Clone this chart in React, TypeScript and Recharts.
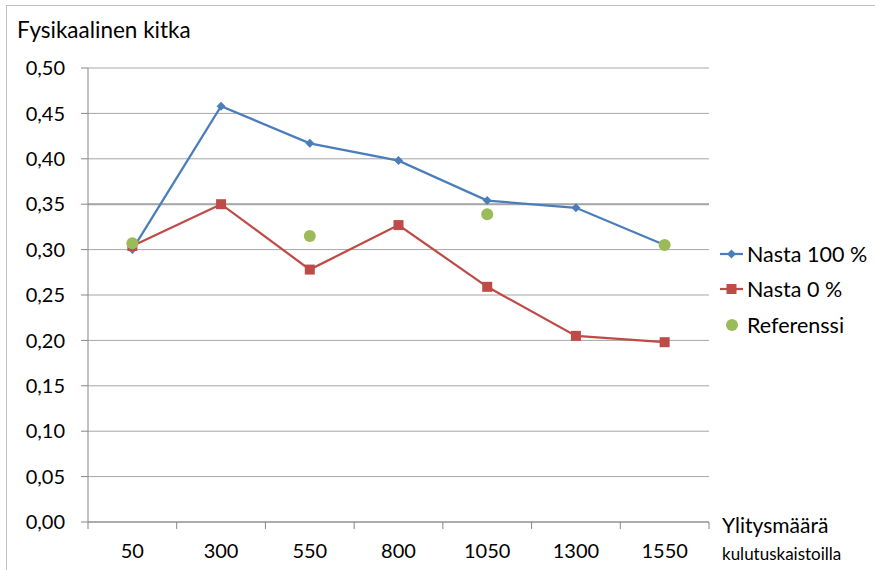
import React from 'react'
import {
  CartesianGrid,
  ComposedChart,
  Line,
  ReferenceLine,
  XAxis,
  YAxis,
} from 'recharts'

const categories = ['50', '300', '550', '800', '1050', '1300', '1550']
const nasta100 = [0.3, 0.458, 0.417, 0.398, 0.354, 0.346, 0.305]
const nasta0 = [0.304, 0.35, 0.278, 0.327, 0.259, 0.205, 0.198]
const referenssi = [0.307, null, 0.315, null, 0.339, null, 0.305]
const yTicks = [0, 0.05, 0.1, 0.15, 0.2, 0.25, 0.3, 0.35, 0.4, 0.45, 0.5]

const data = categories.map((c, i) => ({
  cat: c,
  n100: nasta100[i],
  n0: nasta0[i],
  ref: referenssi[i],
}))

const WIDTH = 875
const HEIGHT = 570
const MARGIN = { top: 68, right: 166, bottom: 18, left: 0 }
const Y_AXIS_W = 88
const BAND = (WIDTH - MARGIN.right - Y_AXIS_W) / categories.length

const FONT = 'Lato, "Open Sans", sans-serif'
const BLUE = '#4a7ebb'
const RED = '#be4b48'
const GREEN = '#9bbb59'
const GRID = '#a6a6a6'
const AXIS = '#868686'

const Diamond = ({ cx, cy }: any) =>
  cx == null || cy == null ? null : (
    <polygon
      points={`${cx},${cy - 4.5} ${cx + 4.5},${cy} ${cx},${cy + 4.5} ${cx - 4.5},${cy}`}
      fill={BLUE}
    />
  )

const Square = ({ cx, cy }: any) =>
  cx == null || cy == null ? null : (
    <rect x={cx - 5} y={cy - 5} width={10} height={10} fill={RED} />
  )

const Circle = ({ cx, cy }: any) =>
  cx == null || cy == null ? null : <circle cx={cx} cy={cy} r={6} fill={GREEN} />

function XTick({ x, y, payload, index }: any) {
  const half = BAND / 2
  return (
    <g>
      <line x1={x - half} x2={x - half} y1={y} y2={y + 7} stroke={AXIS} />
      {index === categories.length - 1 && (
        <line x1={x + half} x2={x + half} y1={y} y2={y + 7} stroke={AXIS} />
      )}
      <text x={x} y={y + 36} textAnchor="middle" fill="#000" fontSize={20} fontFamily={FONT}>
        {payload.value}
      </text>
    </g>
  )
}

function AxisTitle({ viewBox }: any) {
  const x = viewBox.x + viewBox.width + 13
  return (
    <g fontFamily={FONT} fill="#000">
      <text x={x} y={533} fontSize={21}>Ylitysmäärä</text>
      <text x={x} y={560} fontSize={17}>kulutuskaistoilla</text>
    </g>
  )
}

// legend entries, in the reference's order
const legendItems = [
  { name: 'Nasta 100 %', color: BLUE, kind: 'diamond' },
  { name: 'Nasta 0 %', color: RED, kind: 'square' },
  { name: 'Referenssi', color: GREEN, kind: 'circle' },
]

function LegendIcon({ kind, color }: { kind: string; color: string }) {
  return (
    <svg width={27} height={16}>
      {kind !== 'circle' && (
        <line x1={0} x2={23} y1={8} y2={8} stroke={color} strokeWidth={2.25} />
      )}
      {kind === 'diamond' && <polygon points="11.5,3.5 16,8 11.5,12.5 7,8" fill={color} />}
      {kind === 'square' && <rect x={6.5} y={3} width={10} height={10} fill={color} />}
      {kind === 'circle' && <circle cx={12} cy={8} r={6} fill={color} />}
    </svg>
  )
}

export default function App() {
  return (
    <div
      style={{
        position: 'absolute',
        left: 0,
        top: 0,
        width: WIDTH,
        height: HEIGHT,
        background: '#fff',
        overflow: 'hidden',
      }}
    >
      <div
        style={{
          position: 'absolute',
          left: 6,
          top: 5,
          width: WIDTH,
          height: HEIGHT,
          borderLeft: '1px solid #bfbfbf',
          borderTop: '1px solid #bfbfbf',
        }}
      />
      <div
        style={{
          position: 'absolute',
          left: 17,
          top: 16,
          fontFamily: FONT,
          fontSize: 22.5,
          color: '#000',
        }}
      >
        Fysikaalinen kitka
      </div>
      <div
        style={{
          position: 'absolute',
          left: 720,
          top: 236,
          fontFamily: FONT,
          fontSize: 21.5,
          color: '#000',
        }}
      >
        {legendItems.map((it) => (
          <div key={it.name} style={{ display: 'flex', alignItems: 'center', height: 35.5 }}>
            <LegendIcon kind={it.kind} color={it.color} />
            <span>{it.name}</span>
          </div>
        ))}
      </div>
      <ComposedChart width={WIDTH} height={HEIGHT} data={data} margin={MARGIN}>
        <CartesianGrid horizontal vertical={false} stroke={GRID} strokeWidth={1} />
        <ReferenceLine y={0.35} stroke={GRID} strokeWidth={2} />
        <XAxis
          dataKey="cat"
          scale="band"
          height={30}
          axisLine={{ stroke: AXIS }}
          tickLine={false}
          tickSize={0}
          tickMargin={0}
          tick={<XTick />}
          interval={0}
          label={<AxisTitle />}
        />
        <YAxis
          width={Y_AXIS_W}
          domain={[0, 0.5]}
          ticks={yTicks}
          interval={0}
          tickFormatter={(v: number) => v.toFixed(2).replace('.', ',')}
          axisLine={{ stroke: AXIS }}
          tickLine={{ stroke: AXIS }}
          tickSize={7}
          tickMargin={16}
          tick={{ fill: '#000', fontSize: 20, fontFamily: FONT }}
        />
        <Line
          dataKey="n100"
          name="Nasta 100 %"
          stroke={BLUE}
          strokeWidth={2.25}
          dot={<Diamond />}
          activeDot={false}
          isAnimationActive={false}
        />
        <Line
          dataKey="n0"
          name="Nasta 0 %"
          stroke={RED}
          strokeWidth={2.25}
          dot={<Square />}
          activeDot={false}
          isAnimationActive={false}
        />
        <Line
          dataKey="ref"
          name="Referenssi"
          stroke="none"
          dot={<Circle />}
          activeDot={false}
          isAnimationActive={false}
        />
      </ComposedChart>
    </div>
  )
}
